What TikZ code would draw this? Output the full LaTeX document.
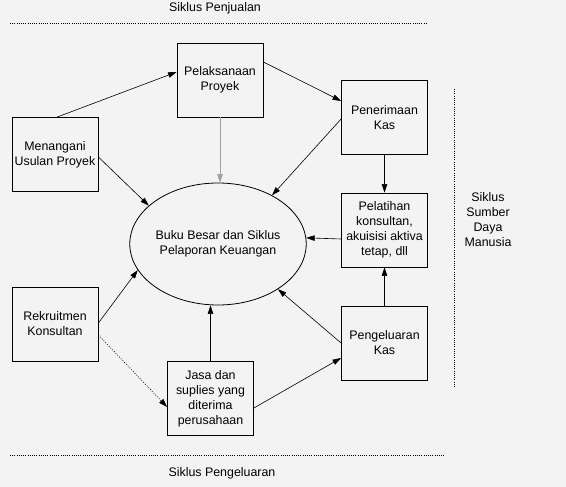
\documentclass[tikz,border=0pt]{standalone}
\usepackage{fontspec}
\setmainfont{Liberation Sans}
\usetikzlibrary{shapes.geometric,arrows.meta}
\definecolor{bgc}{HTML}{F3F3F3}
\definecolor{lgray}{HTML}{A0A0A0}
\begin{document}
\begin{tikzpicture}[x=1pt,y=-1pt,
  every node/.style={font=\fontsize{12.4}{15}\selectfont},
  boxn/.style={draw,line width=0.8pt,minimum width=86pt,minimum height=74pt,inner sep=1pt,align=center},
  arr/.style={line width=0.6pt,-{Triangle[length=8.5pt,width=5.5pt]}},
  dotline/.style={line width=0.8pt,dash pattern=on 1pt off 1.2pt},
  lbl/.style={align=center,inner sep=0pt}]
\fill[bgc] (0,0) rectangle (566,487);
\useasboundingbox (0,0) rectangle (566,487);

\node[boxn] (pel) at (220,80) {Pelaksanaan\\Proyek};
\node[boxn] (pen) at (384.5,117.5) {Penerimaan\\Kas};
\node[boxn] (men) at (55,154.5) {Menangani\\Usulan Proyek};
\node[boxn] (pla) at (384.5,230) {Pelatihan\\konsultan,\\akuisisi aktiva\\tetap, dll};
\node[boxn] (rek) at (55,324) {Rekruitmen\\Konsultan};
\node[boxn] (pge) at (384.5,343) {Pengeluaran\\Kas};
\node[boxn] (jas) at (210.5,398.5) {Jasa dan\\suplies yang\\diterima\\perusahaan};
\node[draw,ellipse,line width=0.8pt,minimum width=134pt,minimum height=122pt,inner sep=0pt,align=center] (bb) at (218,244) {Buku Besar dan Siklus\\Pelaporan Keuangan};

\node[lbl] (t1) at (215,8) {Siklus Penjualan};
\node[lbl] (t2) at (222,473) {Siklus Pengeluaran};
\node[lbl] (t3) at (488,219.5) {Siklus\\Sumber\\Daya\\Manusia};

\coordinate (d1a) at (10,23); \coordinate (d1b) at (427,23);
\coordinate (d2a) at (10,455); \coordinate (d2b) at (445,455);
\coordinate (d3a) at (454,89); \coordinate (d3b) at (454,388);
\draw[dotline] (d1a) -- (d1b);
\draw[dotline] (d2a) -- (d2b);
\draw[dotline] (d3a) -- (d3b);

\draw[arr] ([xshift=2pt]men.north) -- ([yshift=8pt]pel.west);
\draw[arr] ([yshift=18pt]pel.east) -- ([yshift=16.5pt]pen.west);
\draw[arr,lgray] (pel.south) -- (pel.south |- bb.north);
\draw[arr] ([yshift=-2.5pt]men.east) -- (bb.151);
\draw[arr] ([yshift=-1.5pt]pen.west) -- (bb.42);
\draw[arr] (pen.south) -- (pla.north);
\draw[arr] ([yshift=-9pt]pla.west) -- (bb.4);
\draw[arr] ([yshift=1pt]rek.east) -- (bb.198);
\draw[arr,dash pattern=on 1pt off 1.5pt] ([yshift=-11pt]rek.east) -- ([yshift=-8.5pt]jas.west);
\draw[arr] (jas.north) -- (jas.north |- bb.south);
\draw[arr] ([yshift=-9.5pt]jas.east) -- ([yshift=-15pt]pge.west);
\draw[arr] (pge.west) -- (bb.323);
\draw[arr] (pge.north) -- (pla.south);
\end{tikzpicture}
\end{document}
